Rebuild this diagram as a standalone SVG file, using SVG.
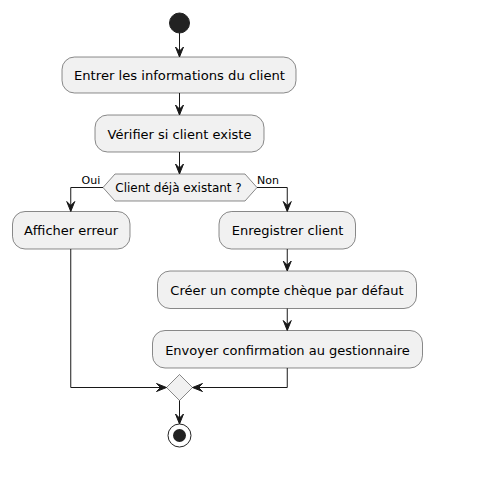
<svg xmlns="http://www.w3.org/2000/svg" width="490" height="477" viewBox="0 0 490 477">
<defs>
<style>
.box{fill:#F1F1F1;stroke:#181818;stroke-width:0.5}
.t{font-family:"DejaVu Sans",sans-serif;font-size:13px;fill:#000;text-anchor:middle}
.l{font-family:"DejaVu Sans",sans-serif;font-size:11px;fill:#000}
.c{fill:none;stroke:#181818;stroke-width:1}
.ah{fill:#181818;stroke:#181818;stroke-width:1}
</style>
</defs>
<rect width="490" height="477" fill="#FFFFFF"/>
<g id="start"><circle cx="179.5" cy="23" r="10" fill="#222222" stroke="#222222"/></g>
<g id="n1"><rect class="box" x="62" y="57" width="234" height="36" rx="12.5"/><text class="t" x="179.5" y="79.5" textLength="211" lengthAdjust="spacingAndGlyphs">Entrer les informations du client</text></g>
<g id="n2"><rect class="box" x="95" y="115" width="169" height="37" rx="12.5"/><text class="t" x="179.5" y="138.5">Vérifier si client existe</text></g>
<g id="d1"><polygon class="box" points="103,187.5 115,174 245,174 257,187.5 245,201 115,201"/><text class="l" x="178.5" y="192" text-anchor="middle" style="font-size:12px">Client déjà existant ?</text></g>
<g id="n3"><rect class="box" x="12.5" y="211.5" width="117.5" height="37.5" rx="12.5"/><text class="t" x="71" y="235">Afficher erreur</text></g>
<g id="n4"><rect class="box" x="219" y="211.5" width="136.5" height="37.5" rx="12.5"/><text class="t" x="287.5" y="235">Enregistrer client</text></g>
<g id="n5"><rect class="box" x="157.5" y="271" width="259" height="37.5" rx="12.5"/><text class="t" x="287" y="295">Créer un compte chèque par défaut</text></g>
<g id="n6"><rect class="box" x="152.5" y="330.5" width="270" height="37.5" rx="12.5"/><text class="t" x="287.5" y="354.5">Envoyer confirmation au gestionnaire</text></g>
<g id="merge"><polygon class="box" points="179.5,374.5 192.5,387.5 179.5,400.5 166.5,387.5"/></g>
<g id="end"><circle cx="179.5" cy="435.5" r="11.5" fill="none" stroke="#222222" stroke-width="1"/><circle cx="179.5" cy="435.5" r="6.5" fill="#222222"/></g>
<g id="connectors">
<line class="c" x1="179.5" y1="33" x2="179.5" y2="56"/>
<polygon class="ah" points="175.5,47 179.5,57 183.5,47 179.5,51"/>
<line class="c" x1="179.5" y1="93" x2="179.5" y2="114"/>
<polygon class="ah" points="175.5,105 179.5,115 183.5,105 179.5,109"/>
<line class="c" x1="179.5" y1="152" x2="179.5" y2="173"/>
<polygon class="ah" points="175.5,164 179.5,174 183.5,164 179.5,168"/>
<polyline class="c" points="103,187.5 70.75,187.5 70.75,210.5"/>
<polygon class="ah" points="66.75,201.5 70.75,211.5 74.75,201.5 70.75,205.5"/>
<text class="l" x="81.5" y="184">Oui</text>
<polyline class="c" points="257,187.5 287.25,187.5 287.25,210.5"/>
<polygon class="ah" points="283.25,201.5 287.25,211.5 291.25,201.5 287.25,205.5"/>
<text class="l" x="257" y="184">Non</text>
<line class="c" x1="287.25" y1="249" x2="287.25" y2="270"/>
<polygon class="ah" points="283.25,261 287.25,271 291.25,261 287.25,265"/>
<line class="c" x1="287.25" y1="308.5" x2="287.25" y2="329.5"/>
<polygon class="ah" points="283.25,320.5 287.25,330.5 291.25,320.5 287.25,324.5"/>
<polyline class="c" points="70.75,249 70.75,387.5 165.5,387.5"/>
<polygon class="ah" points="156.5,383.5 166.5,387.5 156.5,391.5 160.5,387.5"/>
<polyline class="c" points="287.25,368 287.25,387.5 193.5,387.5"/>
<polygon class="ah" points="202.5,383.5 192.5,387.5 202.5,391.5 198.5,387.5"/>
<line class="c" x1="179.5" y1="400.5" x2="179.5" y2="423"/>
<polygon class="ah" points="175.5,414 179.5,424 183.5,414 179.5,418"/>
</g>
</svg>
